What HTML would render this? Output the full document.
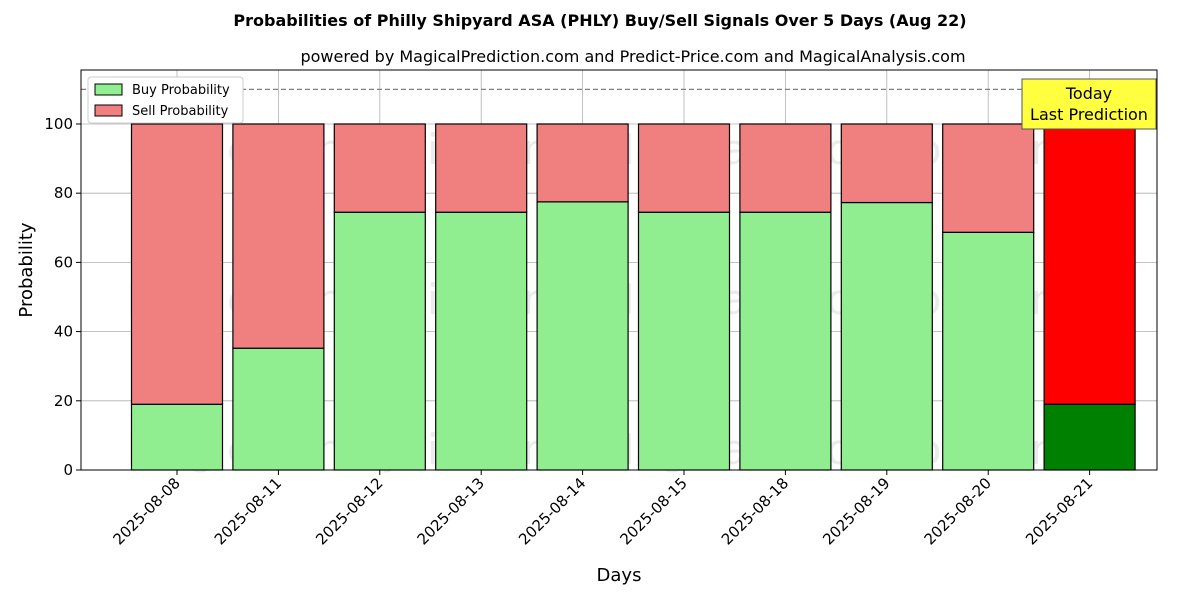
<!DOCTYPE html>
<html><head><meta charset="utf-8"><style>
body{margin:0;background:#fff;font-family:"Liberation Sans","DejaVu Sans",sans-serif}
</style></head><body>
<svg id="chart" width="1200" height="600" xmlns="http://www.w3.org/2000/svg" font-family="DejaVu Sans, Liberation Sans, sans-serif">
<text x="600" y="26" text-anchor="middle" font-size="16" font-weight="bold">Probabilities of Philly Shipyard ASA (PHLY) Buy/Sell Signals Over 5 Days (Aug 22)</text>
<text x="633" y="62" text-anchor="middle" font-size="16">powered by MagicalPrediction.com and Predict-Price.com and MagicalAnalysis.com</text>
<g id="plot"></g>
</svg>
<script>
const categories=["2025-08-08","2025-08-11","2025-08-12","2025-08-13","2025-08-14","2025-08-15","2025-08-18","2025-08-19","2025-08-20","2025-08-21"];
const buyValues=[19,35.2,74.5,74.5,77.5,74.5,74.5,77.3,68.7,19];
const sellValues=[81,64.8,25.5,25.5,22.5,25.5,25.5,22.7,31.3,81];
const yTicks=[0,20,40,60,80,100];
const L=81,R=1157,T=70,B=470;
const yMax=115.6;
const y=v=>B-(B-T)*v/yMax;
const x=i=>177+101.4*i;
const bw=91;
const NS="http://www.w3.org/2000/svg";
const g=document.getElementById('plot');
function mk(tag,attrs,parent){const e=document.createElementNS(NS,tag);for(const k in attrs)e.setAttribute(k,attrs[k]);(parent||g).appendChild(e);return e;}
// grid
yTicks.forEach(t=>{const l=mk('line',{x1:L,x2:R,y1:y(t),y2:y(t),stroke:'#b0b0b0','stroke-width':0.8});

});
categories.forEach((c,i)=>{const l=mk('line',{x1:x(i),x2:x(i),y1:T,y2:B,stroke:'#b0b0b0','stroke-width':0.8});

});
// watermarks
[[345,150,'MagicalAnalysis.com'],[835,150,'MagicalPrediction.com'],[345,300,'MagicalAnalysis.com'],[835,300,'MagicalPrediction.com'],[345,450,'MagicalAnalysis.com'],[835,450,'MagicalPrediction.com']].forEach(w=>{
const t=mk('text',{x:w[0],y:w[1]+14,'text-anchor':'middle','font-size':42,fill:'rgba(120,120,120,0.15)'});t.textContent=w[2];

});
// bars
categories.forEach((c,i)=>{
const last=i===categories.length-1;
const b=mk('rect',{x:x(i)-bw/2,y:y(buyValues[i]),width:bw,height:y(0)-y(buyValues[i]),fill:last?'#008000':'#90ee90',stroke:'#000','stroke-width':1.2});


const s=mk('rect',{x:x(i)-bw/2,y:y(buyValues[i]+sellValues[i]),width:bw,height:y(buyValues[i])-y(buyValues[i]+sellValues[i]),fill:last?'#ff0000':'#f08080',stroke:'#000','stroke-width':1.2});


const tk=mk('line',{x1:x(i),x2:x(i),y1:B,y2:B+5,stroke:'#000'});


const tl=mk('text',{x:x(i)+4,y:B+14,'text-anchor':'end','font-size':15,transform:`rotate(-45 ${x(i)+4} ${B+14})`});
tl.textContent=c;


});
// dashed line
const d=mk('line',{x1:L,x2:R,y1:y(110),y2:y(110),stroke:'#808080','stroke-width':1.3,'stroke-dasharray':'5,3'});


// y ticks
yTicks.forEach(t=>{const l=mk('line',{x1:L-5,x2:L,y1:y(t),y2:y(t),stroke:'#000'});


const tx=mk('text',{x:L-8,y:y(t)+5,'text-anchor':'end','font-size':15});tx.textContent=t;

});
// frame
const f=mk('rect',{x:L,y:T,width:R-L,height:B-T,fill:'none',stroke:'#000','stroke-width':1});


// axis titles
const xt=mk('text',{x:619,y:581,'text-anchor':'middle','font-size':18});xt.textContent='Days';


const yt=mk('text',{x:32,y:270,'text-anchor':'middle','font-size':18,transform:'rotate(-90 32 270)'});yt.textContent='Probability';


// legend
const lg=mk('g',{});


mk('rect',{x:88,y:77,width:155,height:46,fill:'#fff',stroke:'#ccc',rx:3},lg);
[['#90ee90','Buy Probability',84],['#f08080','Sell Probability',105]].forEach(e=>{
const r=mk('rect',{x:95,y:e[2],width:27,height:11,fill:e[0],stroke:'#000'},lg);


const t=mk('text',{x:132,y:e[2]+10,'font-size':13},lg);t.textContent=e[1];

});
// annotation
const ab=mk('rect',{x:1022,y:79,width:134,height:50,fill:'#ffff40',stroke:'#555'});


const a1=mk('text',{x:1089,y:99,'text-anchor':'middle','font-size':16});a1.textContent='Today';


const a2=mk('text',{x:1089,y:120,'text-anchor':'middle','font-size':16});a2.textContent='Last Prediction';


</script>
</body></html>
